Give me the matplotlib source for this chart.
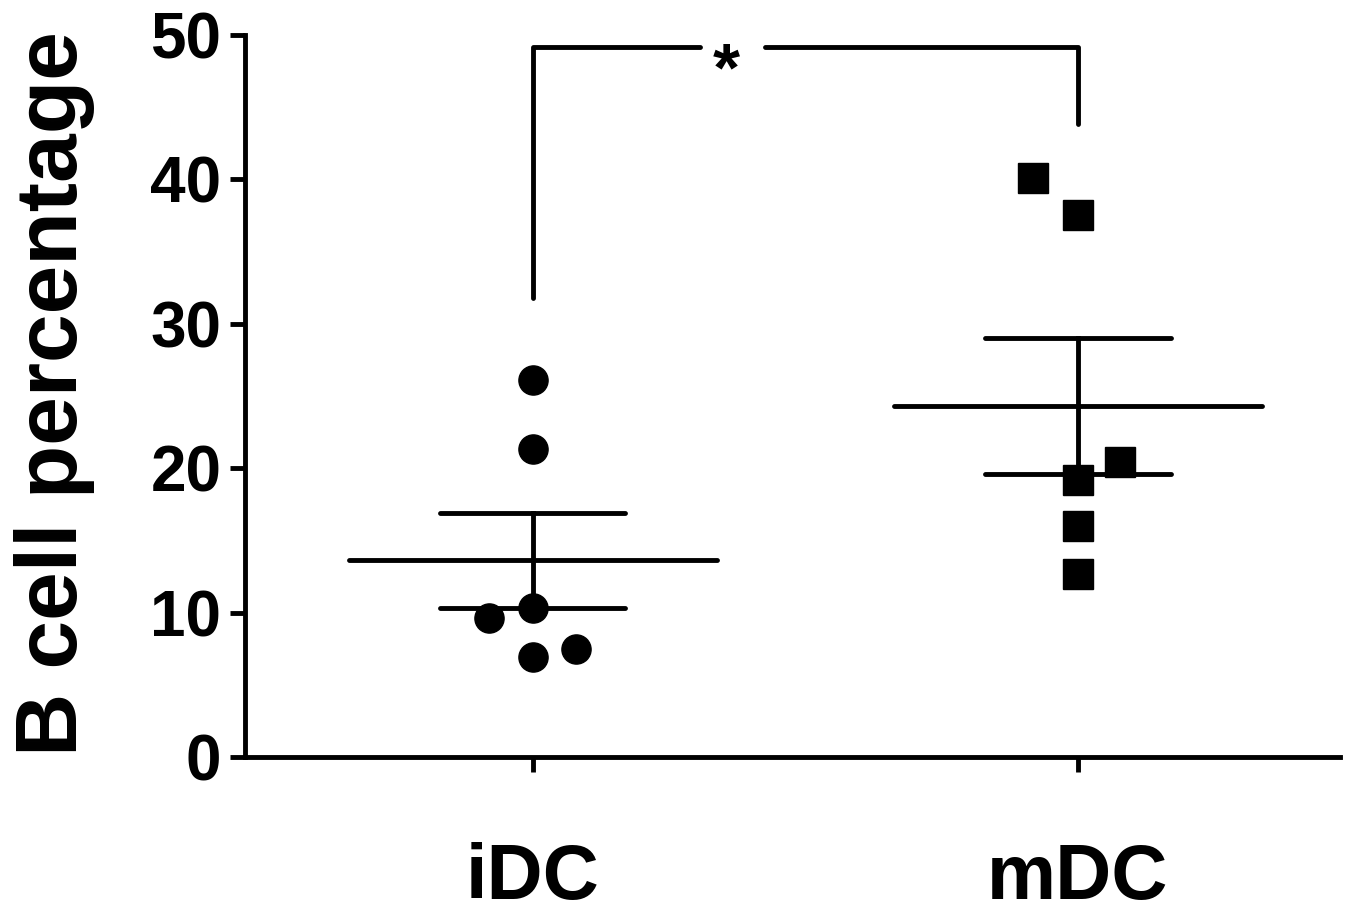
import numpy as np
import matplotlib
matplotlib.use('Agg')
import matplotlib.pyplot as plt

plt.rcParams['font.family'] = ['Liberation Sans', 'DejaVu Sans']
plt.rcParams['font.weight'] = 'bold'

groups = ['iDC', 'mDC']
idc_vals = [26.1, 21.3, 10.3, 9.6, 6.95, 7.45]
idc_dx = [0.0, 0.0, 0.0, -0.08, 0.0, 0.08]
mdc_vals = [40.1, 37.5, 20.45, 19.2, 16.0, 12.7]
mdc_dx = [-0.083, 0.0, 0.077, 0.0, 0.0, 0.0]

yticks = [0, 10, 20, 30, 40, 50]
# significance bracket
bracket_top = 49.2
bracket_left_end = 31.8
bracket_right_end = 43.8
gap = (0.306, 0.426)
sig_label = '*'

fig = plt.figure(figsize=(13.61, 9.06), dpi=100)
ax = fig.add_axes([0.180, 0.1645, 0.8046, 0.7969])

lw = 3.5
ax.plot(np.array(idc_dx) + 0, idc_vals, 'o', color='black', markersize=21, linestyle='none', clip_on=False)
ax.plot(np.array(mdc_dx) + 1, mdc_vals, 's', color='black', markersize=21, linestyle='none', clip_on=False)

# mean +/- SEM
for i, vals in enumerate([idc_vals, mdc_vals]):
    m = np.mean(vals)
    sem = np.std(vals, ddof=1) / np.sqrt(len(vals))
    ax.plot([i - 0.338, i + 0.338], [m, m], color='black', lw=lw, solid_capstyle='round')
    ax.plot([i - 0.17, i + 0.17], [m + sem, m + sem], color='black', lw=lw, solid_capstyle='round')
    ax.plot([i - 0.17, i + 0.17], [m - sem, m - sem], color='black', lw=lw, solid_capstyle='round')
    ax.plot([i, i], [m - sem, m + sem], color='black', lw=lw)

# bracket
kw = dict(color='black', lw=lw, clip_on=False, solid_capstyle='round', solid_joinstyle='round')
ax.plot([0, 0, gap[0]], [bracket_left_end, bracket_top, bracket_top], **kw)
ax.plot([gap[1], 1, 1], [bracket_top, bracket_top, bracket_right_end], **kw)
ax.text(0.355, bracket_top - 1.8, sig_label, ha='center', va='center', fontsize=50, fontweight='bold')

ax.set_xlim(-0.528, 1.481)
ax.set_ylim(0, 50)
ax.set_xticks([0, 1])
ax.set_xticklabels(groups)
ax.set_yticks(yticks)
ax.spines['top'].set_visible(False)
ax.spines['right'].set_visible(False)
for s in ['left', 'bottom']:
    ax.spines[s].set_linewidth(lw)
ax.tick_params(axis='both', width=lw, length=11, color='black')
ax.tick_params(axis='y', labelsize=46, pad=6)
ax.tick_params(axis='x', labelsize=56, pad=50)
for lab in ax.get_xticklabels() + ax.get_yticklabels():
    lab.set_fontweight('bold')

fig.text(55 / 1361, 1 - 394 / 906, 'B cell percentage', rotation=90, ha='center', va='center',
         fontsize=63, fontweight='bold')

fig.savefig('out.png', dpi=100)
